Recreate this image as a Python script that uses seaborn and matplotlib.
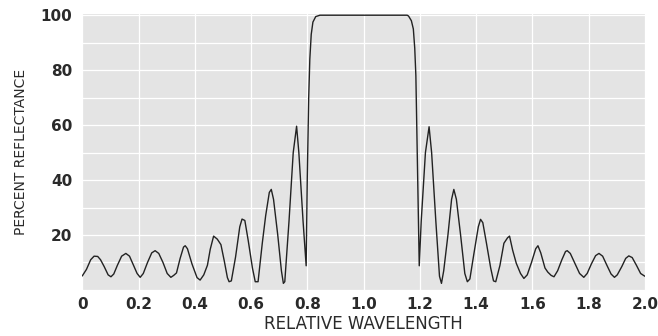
import matplotlib
matplotlib.use("Agg")
import matplotlib.pyplot as plt
import seaborn as sns
import pandas as pd

# reflectance curve (relative wavelength, percent)
wavelength = [
    0.000, 0.015, 0.030, 0.042, 0.055, 0.065, 0.078, 0.092, 0.102, 0.112,
    0.125, 0.140, 0.155, 0.168, 0.180, 0.195, 0.206, 0.217, 0.232, 0.247,
    0.259, 0.272, 0.287, 0.302, 0.315, 0.325, 0.335, 0.348, 0.360, 0.366,
    0.374, 0.390, 0.408, 0.419, 0.432, 0.445, 0.450, 0.455, 0.467, 0.480,
    0.493, 0.505, 0.516, 0.522, 0.530, 0.545, 0.560, 0.568, 0.578, 0.590,
    0.605, 0.615, 0.625, 0.640, 0.652, 0.665, 0.672, 0.680, 0.695, 0.708,
    0.715, 0.720, 0.735, 0.750, 0.762, 0.770, 0.785, 0.796, 0.800, 0.805,
    0.809, 0.814, 0.820, 0.830, 0.845, 1.000, 1.155,
    1.160, 1.170, 1.177, 1.182, 1.186, 1.190, 1.194, 1.198, 1.205, 1.220,
    1.233, 1.242, 1.257, 1.270, 1.277, 1.285, 1.300, 1.313, 1.321, 1.330,
    1.345, 1.360, 1.369, 1.378, 1.392, 1.408, 1.416, 1.424, 1.437, 1.452,
    1.462, 1.470, 1.485, 1.499, 1.512, 1.519, 1.530, 1.535, 1.543, 1.558,
    1.570, 1.582, 1.597, 1.612, 1.620, 1.630, 1.645, 1.655, 1.667, 1.677,
    1.690, 1.705, 1.718, 1.724, 1.735, 1.750, 1.768, 1.783, 1.795, 1.810,
    1.825, 1.837, 1.850, 1.865, 1.880, 1.892, 1.902, 1.918, 1.932, 1.943,
    1.955, 1.970, 1.985, 2.000,
]
reflectance = [
    5.1, 7.5, 11.0, 12.3, 12.2, 11.0, 8.5, 5.5, 4.8, 5.8,
    9.0, 12.3, 13.3, 12.3, 9.5, 6.0, 4.6, 6.0, 10.0, 13.5,
    14.3, 13.3, 10.0, 6.0, 4.6, 5.3, 6.2, 11.5, 15.6, 16.1,
    15.0, 9.5, 4.5, 3.6, 5.5, 9.0, 12.0, 14.8, 19.6, 18.5,
    16.5, 10.5, 4.5, 3.0, 3.3, 12.0, 23.0, 25.8, 25.3, 18.0,
    8.0, 3.0, 3.0, 17.0, 27.0, 35.5, 36.6, 33.0, 20.0, 7.0,
    2.4, 3.0, 25.0, 50.0, 59.6, 50.0, 25.0, 8.8, 41.0, 70.0,
    84.0, 93.0, 97.5, 99.5, 100.0, 100.0, 100.0,
    99.7, 98.0, 95.0, 88.0, 78.0, 55.0, 30.0, 8.8, 25.0, 50.0,
    59.4, 50.0, 25.0, 5.0, 2.4, 7.0, 20.0, 33.0, 36.6, 33.0,
    20.0, 6.0, 3.0, 4.0, 13.0, 23.0, 25.7, 24.5, 17.0, 8.0,
    3.3, 3.0, 9.0, 17.0, 19.0, 19.6, 14.5, 12.7, 9.7, 6.0,
    4.2, 5.5, 10.0, 15.0, 16.1, 13.5, 8.0, 6.5, 5.3, 4.8,
    7.0, 11.0, 14.0, 14.3, 13.3, 10.0, 6.0, 4.6, 6.0, 9.5,
    12.5, 13.3, 12.3, 9.0, 5.8, 4.6, 5.5, 8.5, 11.5, 12.4,
    11.8, 9.0, 6.0, 5.0,
]

x_ticks = [0.0, 0.2, 0.4, 0.6, 0.8, 1.0, 1.2, 1.4, 1.6, 1.8, 2.0]
x_tick_labels = ["0", "0.2", "0.4", "0.6", "0.8", "1.0", "1.2", "1.4", "1.6", "1.8", "2.0"]
y_ticks = [0, 10, 20, 30, 40, 50, 60, 70, 80, 90, 100]
y_tick_labels = ["", "", "20", "", "40", "", "60", "", "80", "", "100"]

df = pd.DataFrame({"wavelength": wavelength, "reflectance": reflectance})

sns.set_theme(style="darkgrid", rc={
    "axes.facecolor": "#e4e4e4",
    "grid.color": "white",
    "grid.linewidth": 0.9,
})
plt.rcParams["font.family"] = ["DejaVu Sans"]

fig = plt.figure(figsize=(6.58, 3.36), dpi=100)
ax = fig.add_axes([0.125, 0.137, 0.855, 0.821])

sns.lineplot(data=df, x="wavelength", y="reflectance", ax=ax,
             estimator=None, sort=False, color="#222222", linewidth=1.0)

ax.set_xlim(0, 2.0)
ax.set_ylim(0, 100.4)
ax.set_xticks(x_ticks)
ax.set_xticklabels(x_tick_labels, fontsize=11, fontweight="bold", color="#2a2a2a")
ax.set_yticks(y_ticks)
ax.set_yticklabels(y_tick_labels, fontsize=11, fontweight="bold", color="#2a2a2a")
ax.tick_params(axis="x", length=0, pad=5)
ax.tick_params(axis="y", length=0, pad=7)

ax.set_xlabel("RELATIVE WAVELENGTH", fontsize=12, color="#2a2a2a", labelpad=2)
ax.set_ylabel("PERCENT REFLECTANCE", fontsize=10, color="#2a2a2a", labelpad=9)

for side in ax.spines.values():
    side.set_visible(False)

fig.savefig("out.png", dpi=100)
